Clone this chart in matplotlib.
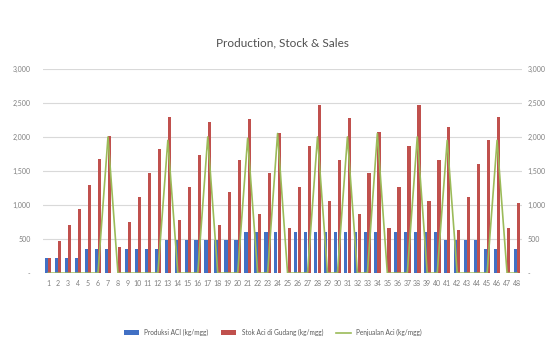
import matplotlib
matplotlib.use('Agg')
import matplotlib.pyplot as plt
import numpy as np

weeks = list(range(1, 49))
produksi = [220, 220, 220, 220, 350, 350, 350, 0, 350, 350, 350, 350,
            480, 480, 480, 480, 480, 480, 480, 480, 600, 600, 600, 600,
            0, 600, 600, 600, 600, 600, 600, 600, 600, 600, 0, 600,
            600, 600, 600, 600, 480, 480, 480, 480, 350, 350, 0, 350]
stok = [220, 470, 710, 940, 1300, 1670, 2010, 390, 745, 1120, 1470, 1825,
        2290, 785, 1260, 1740, 2220, 710, 1190, 1665, 2265, 870, 1470, 2060,
        660, 1270, 1870, 2470, 1065, 1665, 2280, 870, 1470, 2065, 660, 1265,
        1870, 2470, 1065, 1665, 2150, 630, 1115, 1595, 1950, 2290, 660, 1025]
penjualan = [0, 0, 0, 0, 0, 0, 2000, 0, 0, 0, 0, 0,
             1950, 0, 0, 0, 2000, 0, 0, 0, 1980, 0, 0, 2050,
             0, 0, 0, 2000, 0, 0, 2000, 0, 0, 2050, 0, 0,
             0, 2000, 0, 0, 1950, 0, 0, 0, 0, 1950, 0, 0]
yticks = [0, 500, 1000, 1500, 2000, 2500, 3000]
ylabels = ['-', '500', '1,000', '1,500', '2,000', '2,500', '3,000']

plt.rcParams['font.family'] = ['Lato', 'DejaVu Sans']
grey = '#7f7f7f'

fig = plt.figure(figsize=(5.53, 3.44), dpi=100)
ax = fig.add_axes([0.078, 0.206, 0.866, 0.594])

x = np.array(weeks)
w = 0.32
b1 = ax.bar(x - 0.17, produksi, width=w, color='#4170C4', label='Produksi ACI (kg/mgg)', zorder=2)
b2 = ax.bar(x + 0.17, stok, width=w, color='#C0504D', label='Stok Aci di Gudang (kg/mgg)', zorder=2)
l1, = ax.plot(x, penjualan, color='#9BBB59', linewidth=1.2, label='Penjualan Aci (kg/mgg)', zorder=3)

ax.set_xlim(0.5, 48.5)
ax.set_ylim(0, 3000)
ax.set_yticks(yticks)
ax.set_yticklabels(ylabels)
ax.set_xticks(x)
ax.set_xticklabels([str(v) for v in weeks])
ax.tick_params(axis='both', length=0, labelsize=5, colors=grey)
ax.tick_params(axis='y', pad=9)
ax.tick_params(axis='x', pad=5)
ax.grid(axis='y', color='#d9d9d9', linewidth=0.8, zorder=0)
for s in ax.spines.values():
    s.set_visible(False)

# same scale repeated on the right
ax2 = ax.twinx()
ax2.set_ylim(0, 3000)
ax2.set_yticks(yticks)
ax2.set_yticklabels(ylabels)
ax2.tick_params(axis='y', length=0, labelsize=5, colors=grey, pad=4)
for s in ax2.spines.values():
    s.set_visible(False)

ax.set_title('Production, Stock & Sales', fontsize=8.5, color='#505050', pad=16)

ax.legend([b1, b2, l1], [b1.get_label(), b2.get_label(), l1.get_label()],
          loc='upper center', bbox_to_anchor=(0.48, -0.245), ncol=3, frameon=False,
          fontsize=4.7, handlelength=2.3, handleheight=0.8, columnspacing=2.0,
          labelcolor='#595959')

fig.savefig('out.png', dpi=100)
